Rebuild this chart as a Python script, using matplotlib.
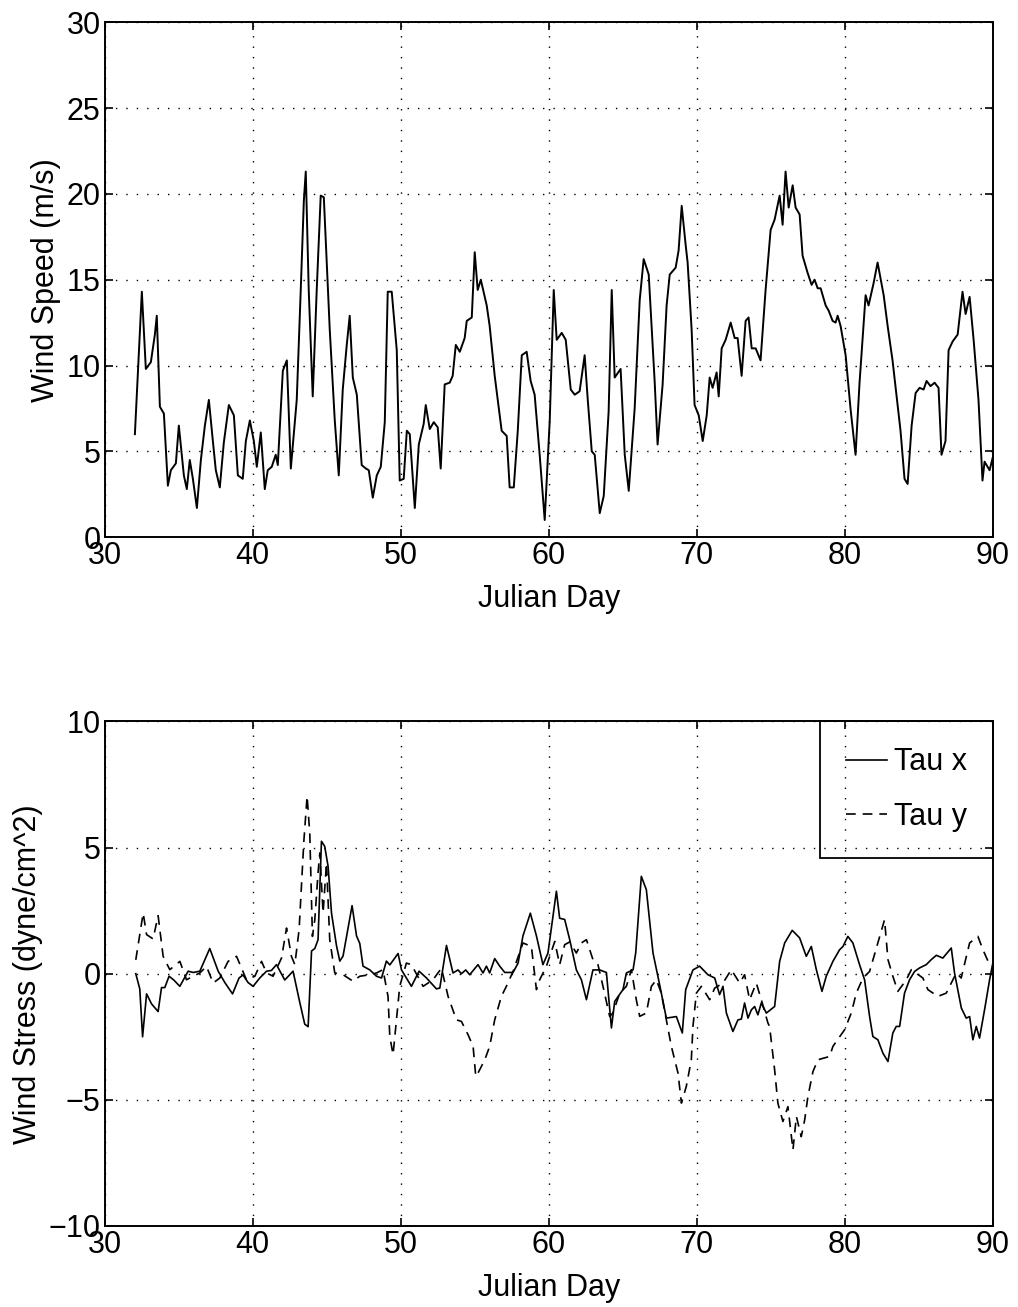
import matplotlib
matplotlib.use("Agg")
import matplotlib.pyplot as plt

plt.rcParams['font.family'] = ['Liberation Sans', 'DejaVu Sans']
plt.rcParams['lines.scale_dashes'] = False

# ---------------- Wind speed (top panel) ----------------
speed_day = [32.03, 32.50, 32.77, 33.11, 33.38, 33.51, 33.72, 33.99, 34.26, 34.46,
             34.80, 35.00, 35.34, 35.54, 35.74, 35.95, 36.22, 36.49, 36.76, 37.03,
             37.30, 37.50, 37.77, 38.04, 38.38, 38.72, 38.99, 39.32, 39.53, 39.80,
             40.07, 40.27, 40.54, 40.81, 41.01, 41.28, 41.55, 41.69, 42.03, 42.30,
             42.57, 42.97, 43.24, 43.45, 43.58, 43.78, 44.05, 44.32, 44.59, 44.80,
             45.20, 45.54, 45.81, 46.08, 46.35, 46.55, 46.76, 47.03, 47.36, 47.64,
             47.84, 48.11, 48.38, 48.65, 48.92, 49.12, 49.39, 49.73, 49.93, 50.20,
             50.41, 50.61, 50.95, 51.22, 51.55, 51.69, 51.96, 52.23, 52.50, 52.70,
             52.97, 53.31, 53.51, 53.72, 53.99, 54.32, 54.46, 54.80, 55.00, 55.20,
             55.41, 55.81, 56.01, 56.35, 56.82, 57.16, 57.36, 57.64, 57.91, 58.18,
             58.51, 58.78, 59.05, 59.39, 59.73, 60.07, 60.34, 60.54, 60.88, 61.15,
             61.49, 61.76, 62.09, 62.43, 62.64, 62.91, 63.11, 63.45, 63.72, 64.05,
             64.26, 64.46, 64.86, 65.14, 65.41, 65.81, 66.15, 66.42, 66.76, 67.16,
             67.36, 67.70, 67.97, 68.18, 68.58, 68.78, 68.99, 69.26, 69.39, 69.66,
             69.86, 70.14, 70.41, 70.68, 70.88, 71.08, 71.35, 71.49, 71.69, 71.96,
             72.30, 72.57, 72.77, 73.04, 73.31, 73.51, 73.72, 73.99, 74.32, 74.66,
             75.00, 75.27, 75.61, 75.81, 76.01, 76.22, 76.49, 76.69, 76.96, 77.16,
             77.50, 77.77, 77.97, 78.18, 78.38, 78.72, 78.92, 79.19, 79.39, 79.53,
             79.73, 80.07, 80.41, 80.74, 81.01, 81.42, 81.62, 81.96, 82.23, 82.64,
             82.91, 83.24, 83.58, 83.78, 84.05, 84.26, 84.53, 84.80, 85.07, 85.34,
             85.54, 85.81, 86.08, 86.35, 86.55, 86.82, 87.03, 87.30, 87.64, 87.97,
             88.18, 88.45, 88.72, 89.05, 89.32, 89.46, 89.80, 90.00]
speed_val = [6.0, 14.3, 9.8, 10.2, 11.8, 12.9, 7.6, 7.2, 3.0, 3.9,
             4.3, 6.5, 3.6, 2.8, 4.5, 3.4, 1.7, 4.5, 6.5, 8.0,
             5.6, 3.9, 2.9, 5.5, 7.7, 7.1, 3.6, 3.4, 5.6, 6.8,
             5.6, 4.1, 6.1, 2.8, 3.9, 4.1, 4.8, 4.2, 9.7, 10.3,
             4.0, 8.0, 14.4, 19.6, 21.3, 14.4, 8.2, 14.4, 19.9, 19.8,
             12.1, 6.8, 3.6, 8.6, 11.2, 12.9, 9.3, 8.3, 4.2, 4.0,
             3.9, 2.3, 3.6, 4.1, 6.7, 14.3, 14.3, 10.9, 3.3, 3.4,
             6.2, 6.0, 1.7, 5.4, 6.6, 7.7, 6.3, 6.7, 6.4, 4.0,
             8.9, 9.0, 9.4, 11.2, 10.8, 11.6, 12.6, 12.8, 16.6, 14.4,
             15.0, 13.5, 12.3, 9.4, 6.2, 5.9, 2.9, 2.9, 6.2, 10.6,
             10.8, 9.1, 8.3, 4.8, 1.0, 6.8, 14.4, 11.5, 11.9, 11.5,
             8.6, 8.3, 8.5, 10.6, 8.0, 5.0, 4.8, 1.4, 2.4, 7.3,
             14.4, 9.3, 9.8, 4.8, 2.7, 7.5, 13.8, 16.2, 15.3, 9.1,
             5.4, 8.9, 13.5, 15.3, 15.7, 16.7, 19.3, 17.0, 16.0, 12.1,
             7.7, 7.1, 5.6, 7.1, 9.3, 8.7, 9.6, 8.2, 11.0, 11.5,
             12.5, 11.6, 11.6, 9.4, 12.6, 12.8, 11.0, 11.0, 10.3, 14.4,
             17.9, 18.5, 19.9, 18.2, 21.3, 19.2, 20.5, 19.2, 18.8, 16.4,
             15.4, 14.7, 15.0, 14.5, 14.5, 13.5, 13.2, 12.6, 12.5, 12.9,
             12.3, 10.6, 7.4, 4.8, 9.0, 14.1, 13.5, 14.8, 16.0, 14.1,
             12.3, 10.3, 7.7, 6.2, 3.4, 3.1, 6.5, 8.4, 8.7, 8.6,
             9.1, 8.8, 9.0, 8.7, 4.8, 5.6, 10.9, 11.4, 11.8, 14.3,
             13.0, 14.0, 11.5, 8.0, 3.3, 4.4, 3.9, 4.6]

# ---------------- Wind stress (bottom panel) ----------------
taux_day = [32.09, 32.36, 32.55, 32.82, 33.16, 33.60, 33.83, 34.05, 34.34, 34.66,
            35.07, 35.63, 35.97, 36.42, 37.09, 37.66, 38.11, 38.63, 39.07, 39.34,
            39.68, 40.02, 40.47, 40.93, 41.26, 41.60, 42.16, 42.72, 43.18, 43.51,
            43.74, 43.97, 44.19, 44.41, 44.64, 44.86, 45.09, 45.32, 45.66, 45.88,
            46.10, 46.71, 47.01, 47.23, 47.45, 47.91, 48.36, 48.70, 49.03, 49.26,
            49.82, 50.05, 50.72, 51.24, 51.74, 52.41, 52.64, 53.09, 53.53, 53.87,
            54.10, 54.39, 54.66, 55.22, 55.56, 55.79, 56.01, 56.35, 56.69, 57.03,
            57.59, 57.93, 58.26, 58.76, 59.17, 59.61, 59.95, 60.52, 60.74, 61.08,
            61.42, 61.87, 62.21, 62.55, 62.99, 63.45, 63.90, 64.24, 64.46, 65.02,
            65.25, 65.70, 65.88, 66.26, 66.60, 67.05, 67.50, 67.95, 68.63, 69.03,
            69.26, 69.75, 70.20, 70.76, 71.22, 71.55, 71.78, 72.01, 72.45, 72.79,
            73.02, 73.24, 73.47, 73.70, 73.92, 74.14, 74.37, 74.71, 75.27, 75.61,
            75.95, 76.46, 76.96, 77.41, 77.75, 78.09, 78.47, 78.76, 79.21, 79.66,
            79.89, 80.22, 80.56, 81.01, 81.35, 81.69, 81.91, 82.25, 82.59, 82.93,
            83.26, 83.49, 83.72, 84.05, 84.39, 84.73, 85.07, 85.52, 85.86, 86.20,
            86.64, 87.21, 87.43, 87.89, 88.22, 88.45, 88.67, 88.90, 89.12, 89.46,
            89.80, 90.00]
taux_val = [0.0, -0.6, -2.5, -0.8, -1.2, -1.5, -0.55, -0.55, -0.1, -0.25,
            -0.5, 0.1, 0.05, 0.1, 1.0, 0.1, -0.35, -0.8, -0.17, -0.05,
            -0.35, -0.5, -0.17, 0.1, 0.13, 0.36, -0.25, 0.1, -1.15, -2.0,
            -2.1, 0.9, 1.0, 1.35, 5.25, 5.05, 4.25, 2.4, 1.1, 0.5,
            0.7, 2.7, 1.5, 1.2, 0.3, 0.15, -0.1, -0.17, 0.5, 0.35,
            0.8, 0.15, -0.5, 0.1, -0.17, -0.6, -0.57, 1.12, 0.03, 0.15,
            0.0, 0.15, -0.04, 0.36, 0.03, 0.3, 0.03, 0.6, 0.3, 0.05,
            0.05, 0.42, 1.5, 2.4, 1.5, 0.36, 0.82, 3.27, 2.2, 2.15,
            1.35, 0.15, -0.24, -1.03, 0.15, 0.15, 0.05, -2.15, -1.1, -0.63,
            0.03, 0.15, 0.82, 3.86, 3.33, 0.82, -0.44, -1.76, -1.7, -2.35,
            -0.63, 0.15, 0.3, -0.04, -0.17, -0.83, -0.5, -1.56, -2.29, -1.83,
            -1.8, -1.16, -1.76, -1.43, -1.3, -1.63, -1.16, -1.56, -1.3, 0.49,
            1.22, 1.72, 1.42, 0.69, 1.08, 0.16, -0.7, -0.1, 0.49, 0.95,
            1.08, 1.48, 1.22, 0.36, -0.24, -1.7, -2.49, -2.62, -3.15, -3.48,
            -2.35, -2.09, -2.09, -0.77, -0.24, 0.09, 0.23, 0.36, 0.56, 0.73,
            0.62, 1.02, 0.03, -1.36, -1.76, -1.7, -2.62, -2.09, -2.55, -1.43,
            -0.24, 0.36]

tauy_day = [32.09, 32.59, 32.82, 33.26, 33.60, 33.94, 34.39, 35.07, 35.52, 35.97,
            36.42, 36.87, 37.32, 37.77, 38.33, 38.90, 39.57, 40.14, 40.59, 40.93,
            41.37, 41.94, 42.28, 42.61, 42.84, 43.13, 43.45, 43.67, 43.85, 44.03,
            44.19, 44.41, 44.53, 44.75, 44.98, 45.20, 45.54, 46.10, 46.78, 47.23,
            47.91, 48.36, 48.80, 49.14, 49.26, 49.48, 49.71, 49.93, 50.38, 50.72,
            51.51, 52.18, 52.75, 53.20, 53.76, 54.10, 54.55, 54.89, 55.07, 55.22,
            55.68, 56.01, 56.35, 56.80, 57.14, 57.59, 58.26, 58.83, 59.17, 59.39,
            59.84, 60.41, 60.74, 61.08, 61.42, 61.87, 62.21, 62.55, 62.99, 63.33,
            63.67, 64.12, 64.34, 64.80, 65.25, 65.59, 65.92, 66.15, 66.60, 66.94,
            67.28, 67.61, 67.95, 68.29, 68.74, 68.97, 69.30, 69.64, 69.75, 69.98,
            70.32, 70.88, 71.22, 71.78, 72.34, 72.91, 73.24, 73.58, 74.03, 74.37,
            74.82, 74.93, 75.27, 75.49, 75.83, 76.17, 76.51, 76.74, 77.07, 77.30,
            77.52, 77.86, 78.20, 78.99, 79.21, 80.00, 80.45, 80.79, 81.24, 81.69,
            82.25, 82.70, 82.93, 83.26, 83.60, 84.17, 84.51, 85.29, 85.63, 86.30,
            86.87, 87.55, 87.88, 88.45, 89.01, 89.35, 89.80, 90.00]
tauy_val = [0.55, 2.4, 1.55, 1.38, 2.3, 0.69, 0.16, 0.49, -0.24, -0.1,
            0.03, 0.29, -0.37, -0.17, 0.49, 0.69, -0.24, -0.1, 0.49, 0.03,
            -0.1, 0.62, 1.81, 0.69, 0.36, 1.75, 5.25, 7.04, 5.58, 1.48,
            2.14, 4.0, 4.79, 2.41, 4.39, 1.35, 0.03, -0.04, -0.3, -0.1,
            -0.04, 0.03, 0.16, -0.9, -2.49, -3.21, -1.83, -0.5, 0.42, 0.36,
            -0.5, -0.24, 0.22, -0.9, -1.83, -1.89, -2.42, -2.88, -4.07, -3.94,
            -3.41, -2.88, -1.83, -0.9, -0.5, 0.09, 1.22, 1.08, -0.63, -0.24,
            0.29, 1.28, 0.36, 1.15, 1.26, 0.82, 1.22, 1.35, 0.56, 0.36,
            -0.5, -1.69, -1.56, -0.77, -0.5, 0.16, -1.03, -1.69, -1.56, -0.5,
            -0.24, -0.77, -1.83, -2.88, -3.94, -5.13, -4.47, -3.41, -2.09, -0.77,
            -0.5, -1.03, -0.57, -0.37, 0.16, -0.37, -0.04, -1.03, -0.37, -1.03,
            -1.96, -2.09, -3.81, -5.13, -5.86, -5.27, -6.98, -5.66, -6.46, -5.8,
            -4.87, -3.88, -3.41, -3.28, -2.88, -2.22, -1.56, -0.77, -0.17, 0.09,
            1.22, 2.14, 0.56, -0.1, -0.7, -0.24, 0.16, -0.17, -0.63, -0.9,
            -0.77, 0.03, -0.17, 1.22, 1.48, 0.95, 0.36, 0.3]

x_ticks = [30, 40, 50, 60, 70, 80, 90]
speed_ticks = [0, 5, 10, 15, 20, 25, 30]
stress_ticks = [-10, -5, 0, 5, 10]

FS = 22
fig = plt.figure(figsize=(10.18, 13.07), dpi=100)
ax1 = fig.add_axes([0.103, 0.589, 0.872, 0.394])
ax2 = fig.add_axes([0.103, 0.062, 0.872, 0.386])

grid_kw = dict(color='black', linestyle=(0, (1, 6.5)), linewidth=1.0)


def style(ax, yticks, ylim, ylabel):
    ax.set_xlim(30, 90)
    ax.set_ylim(*ylim)
    ax.set_xticks(x_ticks)
    ax.set_yticks(yticks)
    ax.tick_params(direction='in', length=6, width=1.2, labelsize=FS,
                   top=True, right=True, pad=3)
    ax.grid(True, **grid_kw)
    for s in ax.spines.values():
        s.set_linewidth(1.4)
    ax.set_xlabel('Julian Day', fontsize=FS, labelpad=9)
    ax.set_ylabel(ylabel, fontsize=FS, labelpad=4)


ax1.plot(speed_day, speed_val, color='black', linewidth=1.4)
style(ax1, speed_ticks, (0, 30), 'Wind Speed (m/s)')

ax2.plot(taux_day, taux_val, color='black', linewidth=1.2, label='Tau x')
ax2.plot(tauy_day, tauy_val, color='black', linewidth=1.2, dashes=(7, 5), label='Tau y')
style(ax2, stress_ticks, (-10, 10), 'Wind Stress (dyne/cm^2)')

leg = ax2.legend(loc='upper right', fontsize=FS, frameon=True, fancybox=False,
                 edgecolor='black', facecolor='none', borderaxespad=0.0,
                 handlelength=1.35, handletextpad=0.2, borderpad=0.85,
                 labelspacing=0.8)
leg.get_frame().set_linewidth(1.3)
leg.get_frame().set_alpha(None)

fig.savefig('out.png', dpi=100)
